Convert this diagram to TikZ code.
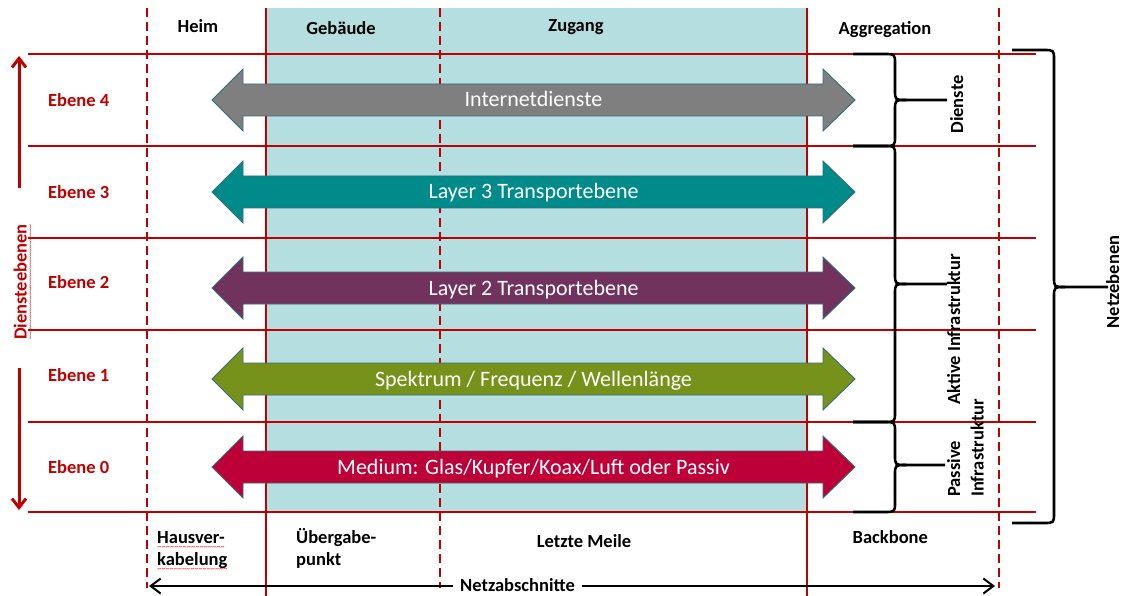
\documentclass[tikz,border=0pt]{standalone}
\usepackage{fontspec}
\setmainfont{Carlito}
\usetikzlibrary{arrows.meta}

\definecolor{lred}{RGB}{192,0,0}
\definecolor{bgteal}{RGB}{180,222,224}
\definecolor{agray}{RGB}{127,127,127}
\definecolor{ateal}{RGB}{0,139,139}
\definecolor{apurple}{RGB}{114,50,94}
\definecolor{aolive}{RGB}{118,146,26}
\definecolor{acrimson}{RGB}{190,0,56}
\definecolor{aedge}{RGB}{49,110,122}

% red wavy spell-check underline, pure TeX
\newcommand\spellwave[1]{\setbox0=\hbox{#1}%
  \rlap{\raisebox{-6pt}{\textcolor{red}{\hbox to\wd0{\xleaders\hbox{\mdseries\fontsize{8}{8}\selectfont\textasciitilde}\hfil}}}}\box0}

% big double arrow: #1 name, #2 centre y, #3 colour, #4 text
\newcommand\bigarrow[4]{%
  \draw[fill=#3, draw=aedge, line width=0.9pt]
    (212,#2) -- (243,#2-31) -- (243,#2-16) -- (823,#2-16) -- (823,#2-31)
    -- (855,#2) -- (823,#2+31) -- (823,#2+16) -- (243,#2+16) -- (243,#2+31) -- cycle;
  \node[arrowtxt] (#1) at (533.5,#2+7) {#4};
}
% curly brace: #1 x of ends, #2 x of spine, #3 top y, #4 bottom y, #5 tip y, #6 x of tip end
\newcommand\curly[6]{%
  \draw[bracestyle] (#1,#3) -- (#2-11,#3) .. controls (#2,#3) .. (#2,#3+10)
    -- (#2,#5-10) .. controls (#2,#5) .. (#2+11,#5) -- (#6,#5);
  \draw[bracestyle] (#2+11,#5) .. controls (#2,#5) .. (#2,#5+10)
    -- (#2,#4-10) .. controls (#2,#4) .. (#2-11,#4) -- (#1,#4);
}

\begin{document}
\begin{tikzpicture}[x=1pt,y=-1pt,
  redline/.style={draw=lred, line width=1.6pt},
  reddash/.style={draw=lred, line width=1.6pt, dash pattern=on 9pt off 5pt},
  lbl/.style={font=\bfseries\fontsize{18.5}{23}\selectfont, text=black, inner sep=0pt},
  ebene/.style={lbl, text=lred, anchor=base west},
  arrowtxt/.style={font=\fontsize{22}{26}\selectfont, text=white, anchor=base, inner sep=0pt},
  bracestyle/.style={draw=black, line width=2.6pt, line join=round},
  ]
\useasboundingbox (0,0) rectangle (1124,596);

% building / access background
\fill[bgteal] (266,8) rectangle (807,512);

% horizontal level separators
\foreach \yy in {54,146,238,330,422,512}
  \draw[redline] (28,\yy) -- (1036,\yy);

% vertical section separators
\draw[reddash] (147,8) -- (147,588);
\draw[redline] (266,8) -- (266,596);
\draw[reddash] (440,8) -- (440,588);
\draw[redline] (807,8) -- (807,596);
\draw[reddash] (999,8) -- (999,588);

% header labels
\node[lbl, anchor=base] (heim) at (198,33) {Heim};
\node[lbl, anchor=base] (gebaeude) at (341,34.5) {Gebäude};
\node[lbl, anchor=base] (zugang) at (576,32) {Zugang};
\node[lbl, anchor=base] (aggr) at (885,35) {Aggregation};

% level labels
\node[ebene] (e4) at (48,106.5) {Ebene 4};
\node[ebene] (e3) at (48,198.5) {Ebene 3};
\node[ebene] (e2) at (48,288.5) {Ebene 2};
\node[ebene] (e1) at (48,381.5) {Ebene 1};
\node[ebene] (e0) at (48,473) {Ebene 0};

% Diensteebenen with arrows
\node[lbl, text=lred, rotate=90, anchor=base] (dienstebenen) at (26.5,282) {\spellwave{Diensteebenen}};
\coordinate (upS) at (19,188);
\coordinate (upE) at (19,56);
\coordinate (dnS) at (19,368);
\coordinate (dnE) at (19,510);
\draw[draw=lred, line width=3pt, -{Straight Barb[length=9pt,width=14pt]}] (upS) -- (upE);
\draw[draw=lred, line width=3pt, -{Straight Barb[length=9pt,width=14pt]}] (dnS) -- (dnE);

% big arrows
\bigarrow{inet}{100}{agray}{Internetdienste}
\bigarrow{l3}{192}{ateal}{Layer 3 Transportebene}
\bigarrow{l2}{288}{apurple}{Layer 2 Transportebene}
\bigarrow{l1}{379}{aolive}{Spektrum / Frequenz / Wellenlänge}
\bigarrow{l0}{467}{acrimson}{Medium: Glas/Kupfer/\spellwave{Koax}/Luft oder Passiv}

% braces
\curly{853}{895}{54}{146}{100}{947}
\curly{853}{895}{146}{422}{284}{947}
\curly{853}{895}{422}{512}{465}{945}
\curly{1012}{1054}{50}{523}{287}{1108}

% brace labels
\node[lbl, rotate=90, anchor=base] (dienste) at (963,104.5) {Dienste};
\node[lbl, rotate=90, anchor=base west] (aktiv) at (960,405) {Aktive Infrastruktur};
\node[lbl, rotate=90, anchor=base west] (passiv1) at (960,497) {Passive};
\node[lbl, rotate=90, anchor=base west] (passiv2) at (983.5,497) {Infrastruktur};
\node[lbl, rotate=90, anchor=base] (netzebenen) at (1119,282) {Netzebenen};

% bottom labels
\node[lbl, anchor=base west] (haus1) at (157,543.3) {\spellwave{Hausver-}};
\node[lbl, anchor=base west] (haus2) at (157,565.7) {\spellwave{kabelung}};
\node[lbl, anchor=base west] (ueber1) at (296,543.3) {Übergabe-};
\node[lbl, anchor=base west] (ueber2) at (296,565.7) {punkt};
\node[lbl, anchor=base] (meile) at (584,547.5) {Letzte Meile};
\node[lbl, anchor=base west] (backbone) at (852.5,543.3) {Backbone};

% Netzabschnitte double arrow
\coordinate (naL) at (149,586);
\coordinate (naR) at (995,586);
\draw[line width=2pt, {Straight Barb[length=10pt,width=15pt]}-{Straight Barb[length=10pt,width=15pt]}] (naL) -- (naR);
\node[lbl, fill=white, inner xsep=7pt, inner ysep=2pt, anchor=base] (netzab) at (517.5,591.5) {Netzabschnitte};
\end{tikzpicture}
\end{document}
